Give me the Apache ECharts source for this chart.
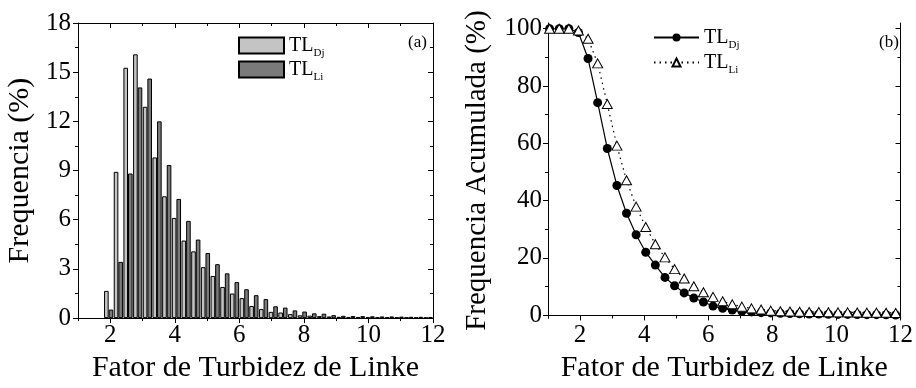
<!DOCTYPE html>
<html><head><meta charset="utf-8">
<script src="https://cdn.jsdelivr.net/npm/echarts@6/dist/echarts.min.js"></script>
<style>html,body{margin:0;padding:0;background:#fff}#c{width:916px;height:388px}</style>
</head><body><div id="c"></div>
<script>
const binCenters = [1.05,1.35,1.65,1.95,2.25,2.55,2.85,3.15,3.45,3.75,4.05,4.35,4.65,4.95,5.25,5.55,5.85,6.15,6.45,6.75,7.05,7.35,7.65,7.95,8.25,8.55,8.85,9.15,9.45,9.75,10.05,10.35,10.65,10.95,11.25,11.55,11.85];
const histDj = [0,0,0,1.66,8.92,15.27,16.09,12.89,9.80,7.43,6.11,4.73,4.07,3.11,2.57,1.90,1.50,1.22,0.74,0.55,0.38,0.34,0.24,0.17,0.15,0.12,0.10,0.08,0.07,0.07,0.06,0.05,0.05,0.04,0.04,0.04,0.03];
const histLi = [0,0,0,0.52,3.43,8.82,14.07,14.61,12.00,9.34,7.27,5.93,4.79,3.97,3.29,2.73,2.20,1.76,1.40,1.16,0.72,0.64,0.47,0.40,0.29,0.27,0.18,0.14,0.13,0.12,0.11,0.10,0.10,0.09,0.08,0.08,0.07];
const cumDj = [100,100,100,98.7,89.6,74.2,58.2,45.3,35.6,28.1,22.0,17.5,13.2,10.3,7.8,6.0,4.6,3.2,2.4,1.8,1.4,1.15,0.9,0.8,0.7,0.6,0.5,0.45,0.4,0.35,0.3,0.3,0.25,0.2,0.2,0.15,0.1];
const cumLi = [100,100,100,99.4,96.5,87.9,73.7,59.2,47.1,37.9,30.8,24.8,20.2,16.1,12.8,10.1,8.0,6.4,4.9,3.8,3.0,2.4,2.0,1.6,1.4,1.3,1.2,1.15,1.1,1.05,1.0,1.0,0.95,0.9,0.9,0.85,0.8];
const xTickLabels = [2,4,6,8,10,12];
const yTickLabelsA = [0,3,6,9,12,15,18];
const yTickLabelsB = [0,20,40,60,80,100];
const yMinorB = [10,30,50,70,90];

const FONT = '"Liberation Serif","DejaVu Serif",serif';
const BLK = '#000';

function pairs(xs, ys, skipZero) {
  const out = [];
  xs.forEach((x, i) => { if (!skipZero || ys[i] > 0) out.push([x, ys[i]]); });
  return out;
}

function xAxes(grid, name) {
  const base = { type: 'value', gridIndex: grid, min: 1, max: 12, splitLine: { show: false } };
  return [
    Object.assign({}, base, {
      position: 'bottom',
      axisLine: { show: true, lineStyle: { color: BLK, width: 1 } },
      axisTick: { show: true, inside: false, length: 5, customValues: xTickLabels, lineStyle: { color: BLK } },
      axisLabel: { show: true, customValues: xTickLabels, fontFamily: FONT, fontSize: 25, color: BLK, margin: 5 },
      name: name, nameLocation: 'middle', nameGap: 33,
      nameTextStyle: { fontFamily: FONT, fontSize: 30, color: BLK }
    }),
    Object.assign({}, base, {
      position: 'bottom', interval: 1,
      axisLine: { show: false },
      axisTick: { show: true, inside: false, length: 3, lineStyle: { color: BLK } },
      axisLabel: { show: false }
    }),
    Object.assign({}, base, {
      position: 'top',
      axisLine: { show: true, lineStyle: { color: BLK, width: 1 } },
      axisTick: { show: true, inside: true, length: 5, customValues: xTickLabels, lineStyle: { color: BLK } },
      axisLabel: { show: false }
    }),
    Object.assign({}, base, {
      position: 'top', interval: 1,
      axisLine: { show: false },
      axisTick: { show: true, inside: true, length: 3, lineStyle: { color: BLK } },
      axisLabel: { show: false }
    })
  ];
}

const yAxes = [
  { type: 'value', gridIndex: 0, position: 'left', min: 0, max: 18, interval: 3,
    splitLine: { show: false },
    axisLine: { show: true, lineStyle: { color: BLK } },
    axisTick: { show: true, inside: false, length: 5, lineStyle: { color: BLK } },
    minorTick: { show: true, splitNumber: 2, length: 3, lineStyle: { color: BLK } },
    axisLabel: { fontFamily: FONT, fontSize: 25, color: BLK, margin: 7 },
    name: 'Frequencia (%)', nameLocation: 'middle', nameGap: 43,
    nameTextStyle: { fontFamily: FONT, fontSize: 30, color: BLK } },
  { type: 'value', gridIndex: 0, position: 'right', min: 0, max: 18, interval: 3,
    splitLine: { show: false },
    axisLine: { show: true, lineStyle: { color: BLK } },
    axisTick: { show: true, inside: true, length: 5, lineStyle: { color: BLK } },
    minorTick: { show: true, splitNumber: 2, length: 3, lineStyle: { color: BLK } },
    axisLabel: { show: false } },
  { type: 'value', gridIndex: 1, position: 'left', min: -1, max: 102,
    splitLine: { show: false },
    axisLine: { show: true, lineStyle: { color: BLK } },
    axisTick: { show: true, inside: false, length: 5, customValues: yTickLabelsB, lineStyle: { color: BLK } },
    axisLabel: { customValues: yTickLabelsB, fontFamily: FONT, fontSize: 25, color: BLK, margin: 6 },
    name: 'Frequencia Acumulada (%)', nameLocation: 'middle', nameGap: 56,
    nameTextStyle: { fontFamily: FONT, fontSize: 29, color: BLK } },
  { type: 'value', gridIndex: 1, position: 'left', min: -1, max: 102,
    splitLine: { show: false },
    axisLine: { show: false },
    axisTick: { show: true, inside: false, length: 3, customValues: yMinorB, lineStyle: { color: BLK } },
    axisLabel: { show: false } },
  { type: 'value', gridIndex: 1, position: 'right', min: -1, max: 102,
    splitLine: { show: false },
    axisLine: { show: true, lineStyle: { color: BLK } },
    axisTick: { show: true, inside: true, length: 5, customValues: yTickLabelsB, lineStyle: { color: BLK } },
    axisLabel: { show: false } },
  { type: 'value', gridIndex: 1, position: 'right', min: -1, max: 102,
    splitLine: { show: false },
    axisLine: { show: false },
    axisTick: { show: true, inside: true, length: 3, customValues: yMinorB, lineStyle: { color: BLK } },
    axisLabel: { show: false } }
];

const rich = {
  m: { fontFamily: FONT, fontSize: 20, lineHeight: 20, color: BLK },
  s: { fontFamily: FONT, fontSize: 11, lineHeight: 11, color: BLK, padding: [16, 0, 0, 0] }
};
const legendFmt = n => n.indexOf('Dj') === 0 ? '{m|TL}{s|Dj}' : '{m|TL}{s|Li}';

const option = {
  animation: false,
  backgroundColor: '#fff',
  grid: [
    { left: 78, top: 23, width: 355, height: 299 },
    { left: 548, top: 23, width: 355, height: 299 }
  ],
  title: [
    { text: '(a)', left: 403, top: 29, textStyle: { fontFamily: FONT, fontSize: 17, fontWeight: 'normal', color: BLK } },
    { text: '(b)', left: 874, top: 29, textStyle: { fontFamily: FONT, fontSize: 17, fontWeight: 'normal', color: BLK } }
  ],
  legend: [
    { data: [{ name: 'Dj_a', icon: 'rect' }, { name: 'Li_a', icon: 'rect' }], orient: 'vertical', left: 233, top: 27,
      itemWidth: 45, itemHeight: 16, itemGap: -3, formatter: legendFmt, textStyle: { rich: rich }, selectedMode: false },
    { data: ['Dj_b', 'Li_b'], orient: 'vertical', left: 648, top: 19, itemWidth: 45, itemHeight: 10,
      itemGap: -2, formatter: legendFmt, textStyle: { rich: rich }, selectedMode: false }
  ],
  xAxis: xAxes(0, 'Fator de Turbidez de Linke').concat(xAxes(1, 'Fator de Turbidez de Linke')),
  yAxis: yAxes,
  series: [
    { name: 'Dj_a', type: 'bar', xAxisIndex: 0, yAxisIndex: 0, data: pairs(binCenters, histDj, true),
      barGap: '0%', barWidth: 4.6,
      itemStyle: { color: '#c4c4c4', borderColor: BLK, borderWidth: 1 } },
    { name: 'Li_a', type: 'bar', xAxisIndex: 0, yAxisIndex: 0, data: pairs(binCenters, histLi, true),
      barGap: '0%', barWidth: 4.6,
      itemStyle: { color: '#7a7a7a', borderColor: BLK, borderWidth: 1 } },
    { name: 'Dj_b', type: 'line', xAxisIndex: 4, yAxisIndex: 2, data: pairs(binCenters, cumDj, false),
      symbol: 'circle', symbolSize: 9, showAllSymbol: true, clip: false,
      itemStyle: { color: BLK },
      lineStyle: { color: BLK, width: 1.2, type: 'solid' } },
    { name: 'Li_b', type: 'line', xAxisIndex: 4, yAxisIndex: 2, data: pairs(binCenters, cumLi, false),
      symbol: 'triangle', symbolSize: [10, 9], showAllSymbol: true, clip: false,
      itemStyle: { color: '#fff', borderColor: BLK, borderWidth: 1 },
      lineStyle: { color: BLK, width: 1.2, type: [1.5, 4] } }
  ]
};
echarts.init(document.getElementById('c')).setOption(option);
</script></body></html>
